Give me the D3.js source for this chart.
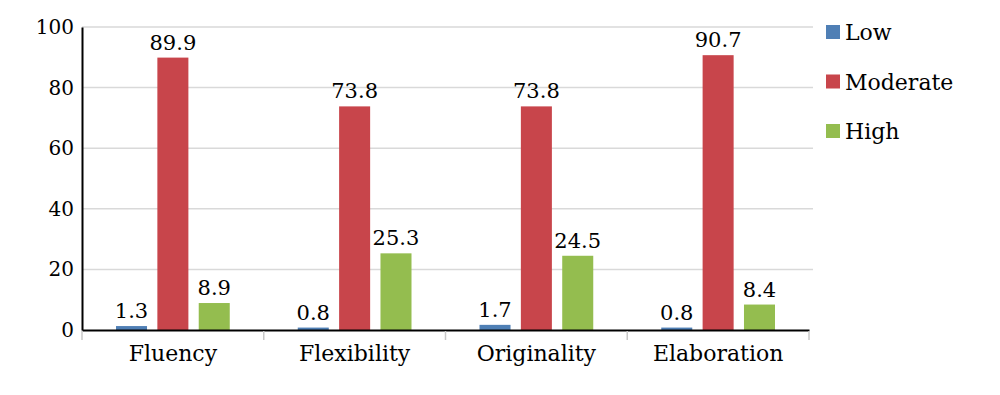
<!DOCTYPE html>
<html>
<meta charset="utf-8">
<style>
  body { margin: 0; background: #fff; }
  text { font-family: "DejaVu Serif", serif; fill: #000; }
</style>
<script src="https://d3js.org/d3.v7.min.js"></script>
<div id="my_dataviz"></div>
<script>

// categories and series
var categories = ["Fluency", "Flexibility", "Originality", "Elaboration"];
var seriesNames = ["Low", "Moderate", "High"];
var low = [1.3, 0.8, 1.7, 0.8];
var moderate = [89.9, 73.8, 73.8, 90.7];
var high = [8.9, 25.3, 24.5, 8.4];
var yTicks = [0, 20, 40, 60, 80, 100];
var colors = ["#4f7fb5", "#c8454b", "#94bd4f"];

var seriesValues = [low, moderate, high];

// dimensions
var margin = {top: 27, left: 82},
    width = 727,
    height = 303;

var svg = d3.select("#my_dataviz")
  .append("svg")
    .attr("width", 1000)
    .attr("height", 395)
  .append("g")
    .attr("transform", "translate(" + margin.left + "," + margin.top + ")");

var x = d3.scaleBand()
  .domain(categories)
  .range([0, width]);

var xInner = d3.scaleBand()
  .domain(seriesNames)
  .range([34, x.bandwidth() - 34])
  .paddingInner(0.25);

var y = d3.scaleLinear()
  .domain([0, 100])
  .range([height, 0]);

// gridlines
svg.append("g")
  .selectAll("line")
  .data(yTicks.slice(1))
  .enter()
  .append("line")
    .attr("x1", 0)
    .attr("x2", width + 4)
    .attr("y1", function(d) { return y(d); })
    .attr("y2", function(d) { return y(d); })
    .attr("stroke", "#d9d9d9")
    .attr("stroke-width", 1.5);

// bars
var groups = svg.selectAll(".grp")
  .data(categories)
  .enter()
  .append("g")
    .attr("class", "grp")
    .attr("transform", function(d) { return "translate(" + x(d) + ",0)"; });

groups.selectAll("rect")
  .data(function(d, i) {
    return seriesNames.map(function(s, j) { return {key: s, value: seriesValues[j][i], c: j}; });
  })
  .enter()
  .append("rect")
    .attr("x", function(d) { return xInner(d.key); })
    .attr("y", function(d) { return y(d.value); })
    .attr("width", xInner.bandwidth())
    .attr("height", function(d) { return height - y(d.value); })
    .attr("fill", function(d) { return colors[d.c]; });

groups.selectAll(".lbl")
  .data(function(d, i) {
    return seriesNames.map(function(s, j) { return {key: s, value: seriesValues[j][i]}; });
  })
  .enter()
  .append("text")
    .attr("class", "lbl")
    .attr("x", function(d) { return xInner(d.key) + xInner.bandwidth() / 2; })
    .attr("y", function(d) { return y(d.value) - 8; })
    .attr("text-anchor", "middle")
    .style("font-size", "21px")
    .text(function(d) { return d.value.toFixed(1); });

// Y axis
var yAxis = svg.append("g")
  .call(d3.axisLeft(y).tickValues(yTicks).tickSize(0).tickPadding(8));
yAxis.select(".domain").attr("stroke", "#000").attr("stroke-width", 2);
yAxis.selectAll("text")
  .style("font-size", "20px")
  .style("font-family", "DejaVu Serif, serif")
  .attr("fill", "#000");

// X axis
var xAxis = svg.append("g")
  .attr("transform", "translate(0," + height + ")")
  .call(d3.axisBottom(x).tickSize(0).tickPadding(15));
xAxis.select(".domain").attr("stroke", "#000").attr("stroke-width", 2);
xAxis.selectAll("text")
  .style("font-size", "22px")
  .style("font-family", "DejaVu Serif, serif")
  .attr("fill", "#000");

// category separator ticks
svg.append("g")
  .selectAll("line")
  .data(d3.range(categories.length + 1))
  .enter()
  .append("line")
    .attr("x1", function(i) { return i * x.step(); })
    .attr("x2", function(i) { return i * x.step(); })
    .attr("y1", height + 1)
    .attr("y2", height + 10)
    .attr("stroke", "#c8c8c8")
    .attr("stroke-width", 1.5);

// legend
var legend = d3.select("svg").append("g")
  .attr("transform", "translate(826,32)");

var li = legend.selectAll("g")
  .data(seriesNames)
  .enter()
  .append("g")
    .attr("transform", function(d, i) { return "translate(0," + (i * 49.5) + ")"; });

li.append("rect")
  .attr("x", 0)
  .attr("y", -7)
  .attr("width", 14)
  .attr("height", 14)
  .attr("fill", function(d, i) { return colors[i]; });

li.append("text")
  .attr("x", 19)
  .attr("y", 8)
  .style("font-size", "22px")
  .text(function(d) { return d; });

</script>
</html>
